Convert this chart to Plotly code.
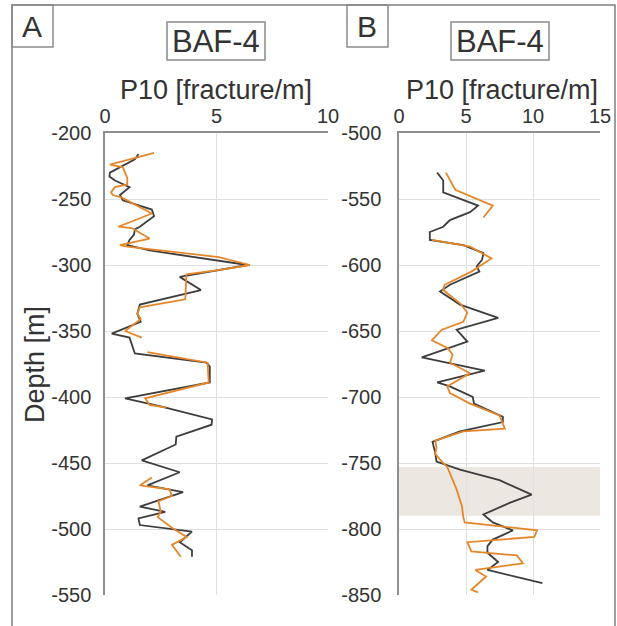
import plotly.graph_objects as go

W, H = 617, 626

# ---- data (P10 fracture/m vs depth m) ----
a_black_p10 = [1.5, 1.34, 0.22, 0.2, 0.45, 1.1, 0.67, 0.8, 2.1, 2.2, 1.56, 1.34, 1.3, 1.1, 1.0, 2.0, 6.4, 3.35, 4.3,
               1.56, 1.45, 1.6, 0.3, 1.1, 1.34, 4.55, 4.7, 4.7, 0.9, 2.45, 4.8, 4.78, 3.2, 3.17, 1.65, 3.35, 1.9,
               3.5, 1.56, 2.7, 1.5, 1.56, 3.9, 3.35, 3.9, 3.9]
a_black_depth = [-216, -220, -230, -233, -236, -241, -247, -251, -258, -263, -271, -273, -277, -281, -285, -289, -300,
                 -309, -319, -330, -337, -343, -352, -355, -367, -374, -377, -389, -401, -407, -417, -421, -430,
                 -436, -448, -457, -467, -472, -483, -487, -492, -497, -502, -510, -516, -521]

a_orange_p10 = [2.2, 0.22, 0.8, 1.0, 1.0, 0.45, 0.27, 0.35, 0.76, 2.1, 0.6, 1.2, 2.0, 0.67, 1.0, 5.1, 6.5, 5.0, 3.65,
                3.6, 1.56, 1.45, 1.6, 0.9, 1.65, None, 1.9, 4.6, 4.65, 1.8, 2.0, 2.75, None, 2.1, 1.56, 2.9, 3.0,
                2.4, 2.5, 2.36, 3.0, 3.66, 3.0, 3.4]
a_orange_depth = [-215, -224, -226, -234, -239, -241, -245, -247, -249, -261, -271, -272, -280, -285, -286, -294,
                  -300, -304, -307, -326, -332, -337, -341, -350, -355, None, -366, -374, -389, -401, -406, -408,
                  None, -461, -467, -470, -475, -479, -487, -491, -499, -506, -512, -521]

b_black_p10 = [2.85, 3.3, 3.3, 5.9, 5.3, 3.8, 3.3, 2.3, 2.3, 4.8, 6.3, 6.2, 5.8, 6.0, 3.8, 3.06, 4.55, 7.4, 4.3,
               5.1, 1.7, 6.4, 2.85, 3.8, 5.5, 5.6, 7.75, 7.75, 4.55, 2.5, 2.7, 2.8, 4.55, 7.5, 9.9, 8.3, 6.3, 7.0,
               8.5, 7.0, 6.6, 6.6, 7.4, 6.6, 10.7]
b_black_depth = [-530, -536, -545, -555, -560, -566, -571, -575, -581, -585, -591, -596, -601, -605, -615, -620,
                 -630, -640, -649, -658, -670, -680, -689, -692, -700, -705, -715, -719, -726, -734, -742, -749,
                 -755, -763, -774, -780, -789, -795, -801, -808, -813, -818, -825, -831, -841]

b_orange_p10 = [3.5, 3.8, 4.2, 7.0, 6.3, None, 2.46, 5.3, 6.9, 5.4, 3.4, 3.3, 4.55, 5.1, 4.8, 3.2, 2.46, 3.65, 4.0,
                3.8, 5.3, 3.6, 3.8, 5.3, 7.5, 7.9, 4.8, 2.7, 2.8, 2.7, 3.2, 3.6, 4.3, 4.7, 4.8, 4.9, 10.3, 10.1,
                5.1, 5.4, 8.8, 9.25, 5.7, 6.5, 5.4, 5.9]
b_orange_depth = [-530, -536, -543, -555, -564, None, -581, -586, -595, -605, -615, -619, -629, -636, -643, -649,
                  -657, -663, -668, -674, -682, -692, -697, -705, -714, -724, -726, -733, -738, -743, -749, -753,
                  -770, -783, -791, -795, -801, -806, -810, -817, -820, -826, -831, -836, -846, -848]

band_depth = [-790, -753]

well_name = "BAF-4"
x_title = "P10 [fracture/m]"
y_title = "Depth [m]"
a_xticks = [0, 5, 10]
b_xticks = [0, 5, 10, 15]
a_yticks = [-200, -250, -300, -350, -400, -450, -500, -550]
b_yticks = [-500, -550, -600, -650, -700, -750, -800, -850]
a_ylabels = ["-200", "-250", "-300", "-350", "-400", "-450", "-500", "-550"]
b_ylabels = ["-500", "-550", "-600", "-650", "-700", "-750", "-800", "-850"]

BLACK = "#3d3d3d"
ORANGE = "#e5862a"
TXT = "#333333"
FONT = "Liberation Sans, Arial, sans-serif"


def px(x):
    return x / W


def py(y):
    return 1 - y / H


fig = go.Figure()
fig.add_trace(go.Scatter(x=a_black_p10, y=a_black_depth, mode="lines", line=dict(color=BLACK, width=1.8),
                         xaxis="x", yaxis="y", showlegend=False))
fig.add_trace(go.Scatter(x=a_orange_p10, y=a_orange_depth, mode="lines", line=dict(color=ORANGE, width=1.8),
                         xaxis="x", yaxis="y", showlegend=False, connectgaps=False))
fig.add_trace(go.Scatter(x=b_black_p10, y=b_black_depth, mode="lines", line=dict(color=BLACK, width=1.8),
                         xaxis="x2", yaxis="y2", showlegend=False))
fig.add_trace(go.Scatter(x=b_orange_p10, y=b_orange_depth, mode="lines", line=dict(color=ORANGE, width=1.8),
                         xaxis="x2", yaxis="y2", showlegend=False, connectgaps=False))

ydom = [py(595), py(133)]
common_x = dict(side="top", showgrid=True, gridcolor="#e0e0e0", gridwidth=1, showline=True, linecolor="#8f8f8f",
                linewidth=1.5, zeroline=False, ticks="", tickfont=dict(size=20, color=TXT, family=FONT),
                fixedrange=True, automargin=False)
common_y = dict(showgrid=True, gridcolor="#e0e0e0", gridwidth=1, showline=True, linecolor="#8f8f8f",
                linewidth=1.5, zeroline=False, ticks="", tickfont=dict(size=20, color=TXT, family=FONT),
                fixedrange=True, domain=ydom, automargin=False)

fig.update_layout(
    width=W, height=H, margin=dict(l=0, r=0, t=0, b=0, autoexpand=False),
    paper_bgcolor="white", plot_bgcolor="rgba(0,0,0,0)",
    font=dict(family=FONT, color=TXT),
    xaxis=dict(domain=[px(105), px(328)], range=[0, 10], tickvals=a_xticks, anchor="y", **common_x),
    yaxis=dict(range=[-550, -200], anchor="x", tickvals=a_yticks, ticktext=a_ylabels,
               ticklabelstandoff=8, **common_y),
    xaxis2=dict(domain=[px(399), px(600)], range=[0, 15], tickvals=b_xticks, anchor="y2", **common_x),
    yaxis2=dict(range=[-850, -500], anchor="x2", tickvals=b_yticks, ticktext=b_ylabels,
                ticklabelstandoff=12, **common_y),
)

shapes = [
    dict(type="rect", xref="x2 domain", x0=0, x1=1, yref="y2", y0=band_depth[0], y1=band_depth[1],
         fillcolor="#ece7e0", line=dict(width=0), layer="below"),
    dict(type="rect", xref="paper", yref="paper", x0=px(12), x1=px(615), y0=-0.05, y1=py(5),
         line=dict(color="#7f7f7f", width=1.5)),
    dict(type="rect", xref="paper", yref="paper", x0=px(12), x1=px(53), y0=py(47), y1=py(5),
         line=dict(color="#8a8a8a", width=1.5)),
    dict(type="rect", xref="paper", yref="paper", x0=px(347), x1=px(388), y0=py(47), y1=py(5),
         line=dict(color="#8a8a8a", width=1.5)),
    dict(type="rect", xref="paper", yref="paper", x0=px(167), x1=px(265), y0=py(60), y1=py(22),
         line=dict(color="#8a8a8a", width=1.5)),
    dict(type="rect", xref="paper", yref="paper", x0=px(451), x1=px(549), y0=py(60), y1=py(22),
         line=dict(color="#8a8a8a", width=1.5)),
]
fig.update_layout(shapes=shapes)

ann = [
    dict(text="A", x=px(32), y=py(27), size=30),
    dict(text="B", x=px(367), y=py(27), size=30),
    dict(text=well_name, x=px(216), y=py(41), size=31),
    dict(text=well_name, x=px(500), y=py(41), size=31),
    dict(text=x_title, x=px(216), y=py(90), size=27),
    dict(text=x_title, x=px(502), y=py(90), size=27),
]
annotations = [dict(text=a["text"], x=a["x"], y=a["y"], xref="paper", yref="paper", showarrow=False,
                    xanchor="center", yanchor="middle", font=dict(size=a["size"], color=TXT, family=FONT))
               for a in ann]
annotations.append(dict(text=y_title, x=px(35), y=py(365), xref="paper", yref="paper", showarrow=False,
                        textangle=-90, xanchor="center", yanchor="middle",
                        font=dict(size=27, color=TXT, family=FONT)))
fig.update_layout(annotations=annotations)

fig.write_html("out.html")
